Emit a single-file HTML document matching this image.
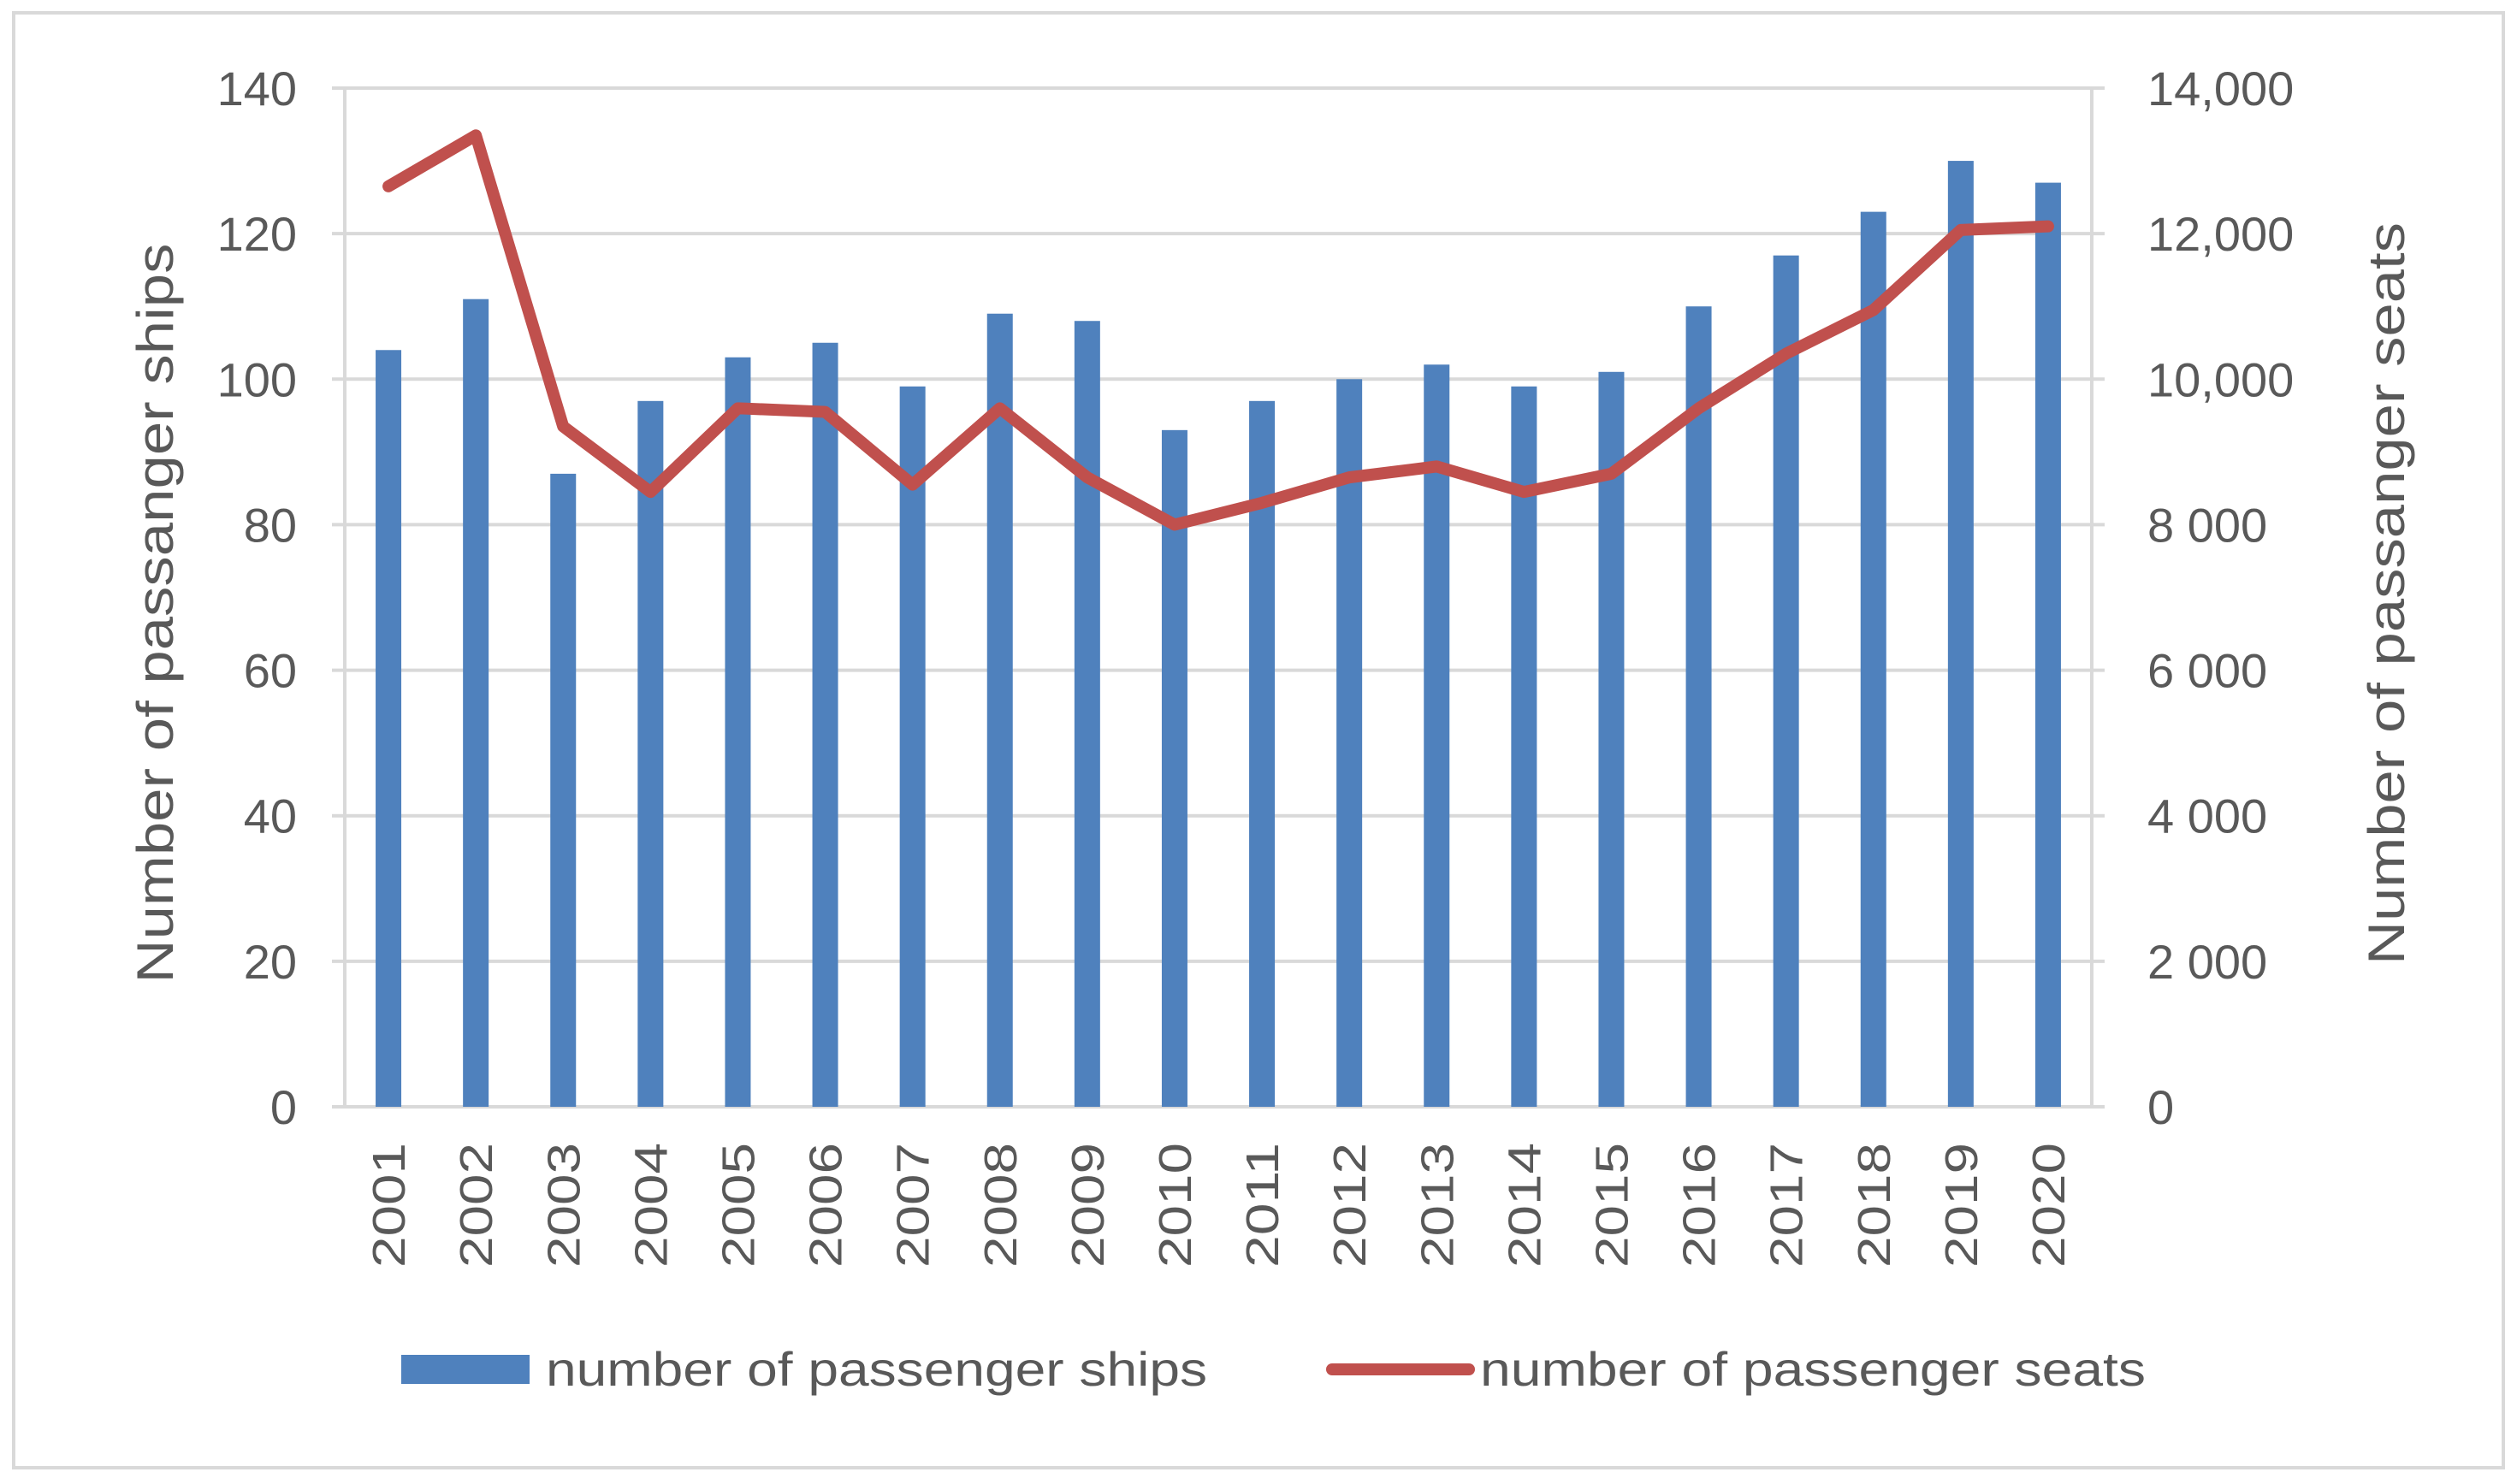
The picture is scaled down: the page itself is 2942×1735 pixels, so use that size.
<!DOCTYPE html>
<html><head><meta charset="utf-8"><style>
html,body{margin:0;padding:0;background:#fff;}
svg{display:block;font-family:"Liberation Sans",sans-serif;}
</style></head><body>
<svg id="chart" width="2942" height="1735" viewBox="0 0 2942 1735" xmlns="http://www.w3.org/2000/svg">
<rect x="16" y="15" width="2910" height="1701" fill="#fff" stroke="#d9d9d9" stroke-width="4"/>
<g id="grid"></g><g id="bars"></g><g id="line"></g><g id="axes"></g><g id="labels"></g>
<text transform="translate(202,717) rotate(-90)" text-anchor="middle" font-size="60" fill="#595959" textLength="865" lengthAdjust="spacingAndGlyphs">Number of passanger ships</text>
<text transform="translate(2810,694) rotate(-90)" text-anchor="middle" font-size="60" fill="#595959" textLength="868" lengthAdjust="spacingAndGlyphs">Number of passanger seats</text>
<rect x="469" y="1584" width="150" height="34" fill="#4f81bd"/>
<text x="638" y="1620" font-size="56" fill="#595959" textLength="773" lengthAdjust="spacingAndGlyphs">number of passenger ships</text>
<line x1="1557" y1="1601" x2="1717" y2="1601" stroke="#c0504d" stroke-width="14" stroke-linecap="round"/>
<text x="1730" y="1620" font-size="56" fill="#595959" textLength="778" lengthAdjust="spacingAndGlyphs">number of passenger seats</text>
</svg>
<script>
const categories=["2001","2002","2003","2004","2005","2006","2007","2008","2009","2010","2011","2012","2013","2014","2015","2016","2017","2018","2019","2020"];
const ships=[104,111,87,97,103,105,99,109,108,93,97,100,102,99,101,110,117,123,130,127];
const seats=[12650,13350,9350,8450,9600,9550,8550,9600,8650,8000,8300,8650,8800,8450,8700,9600,10350,10950,12050,12100];
const leftTicks=[0,20,40,60,80,100,120,140];
const rightTickLabels=["0","2 000","4 000","6 000","8 000","10,000","12,000","14,000"];
const rightTicks=[0,2000,4000,6000,8000,10000,12000,14000];
const NS="http://www.w3.org/2000/svg";
const L=403,R=2445,T=103,B=1294;
const yL=v=>B-(v/140)*(B-T);
const yR=v=>B-(v/14000)*(B-T);
const bw=(R-L)/categories.length;
const xC=i=>L+bw*(i+0.5);
function mk(tag,attrs,parent){const e=document.createElementNS(NS,tag);for(const k in attrs)e.setAttribute(k,attrs[k]);document.getElementById(parent).appendChild(e);return e;}
leftTicks.forEach((t,i)=>{
  const y=yL(t);
  const g=mk('line',{x1:L-15,x2:R+15,y1:y,y2:y,stroke:'#d9d9d9','stroke-width':4},'grid');
  
  
  const tx=mk('text',{x:347,y:y+20,'text-anchor':'end','font-size':56,fill:'#595959'},'labels');
  tx.textContent=t;
  
  
});
rightTicks.forEach((t,i)=>{
  const tx=mk('text',{x:2510,y:yR(t)+20,'font-size':56,fill:'#595959'},'labels');
  tx.textContent=rightTickLabels[i];
  
  
});
const la=mk('line',{x1:L,x2:L,y1:T,y2:B,stroke:'#d9d9d9','stroke-width':4},'axes');


const ra=mk('line',{x1:R,x2:R,y1:T,y2:B,stroke:'#d9d9d9','stroke-width':4},'axes');


categories.forEach((c,i)=>{
  const b=mk('rect',{x:xC(i)-15,y:yL(ships[i]),width:30,height:B-yL(ships[i]),fill:'#4f81bd'},'bars');
  
  
  const tx=mk('text',{transform:`translate(${xC(i)+19},1482) rotate(-90)`,'font-size':54,fill:'#595959',textLength:146,lengthAdjust:'spacingAndGlyphs'},'labels');
  tx.textContent=c;
  
  
});
const pts=seats.map((v,i)=>xC(i)+','+yR(v)).join(' ');
const pl=mk('polyline',{points:pts,fill:'none',stroke:'#c0504d','stroke-width':14,'stroke-linejoin':'round','stroke-linecap':'round'},'line');


</script>
</body></html>
